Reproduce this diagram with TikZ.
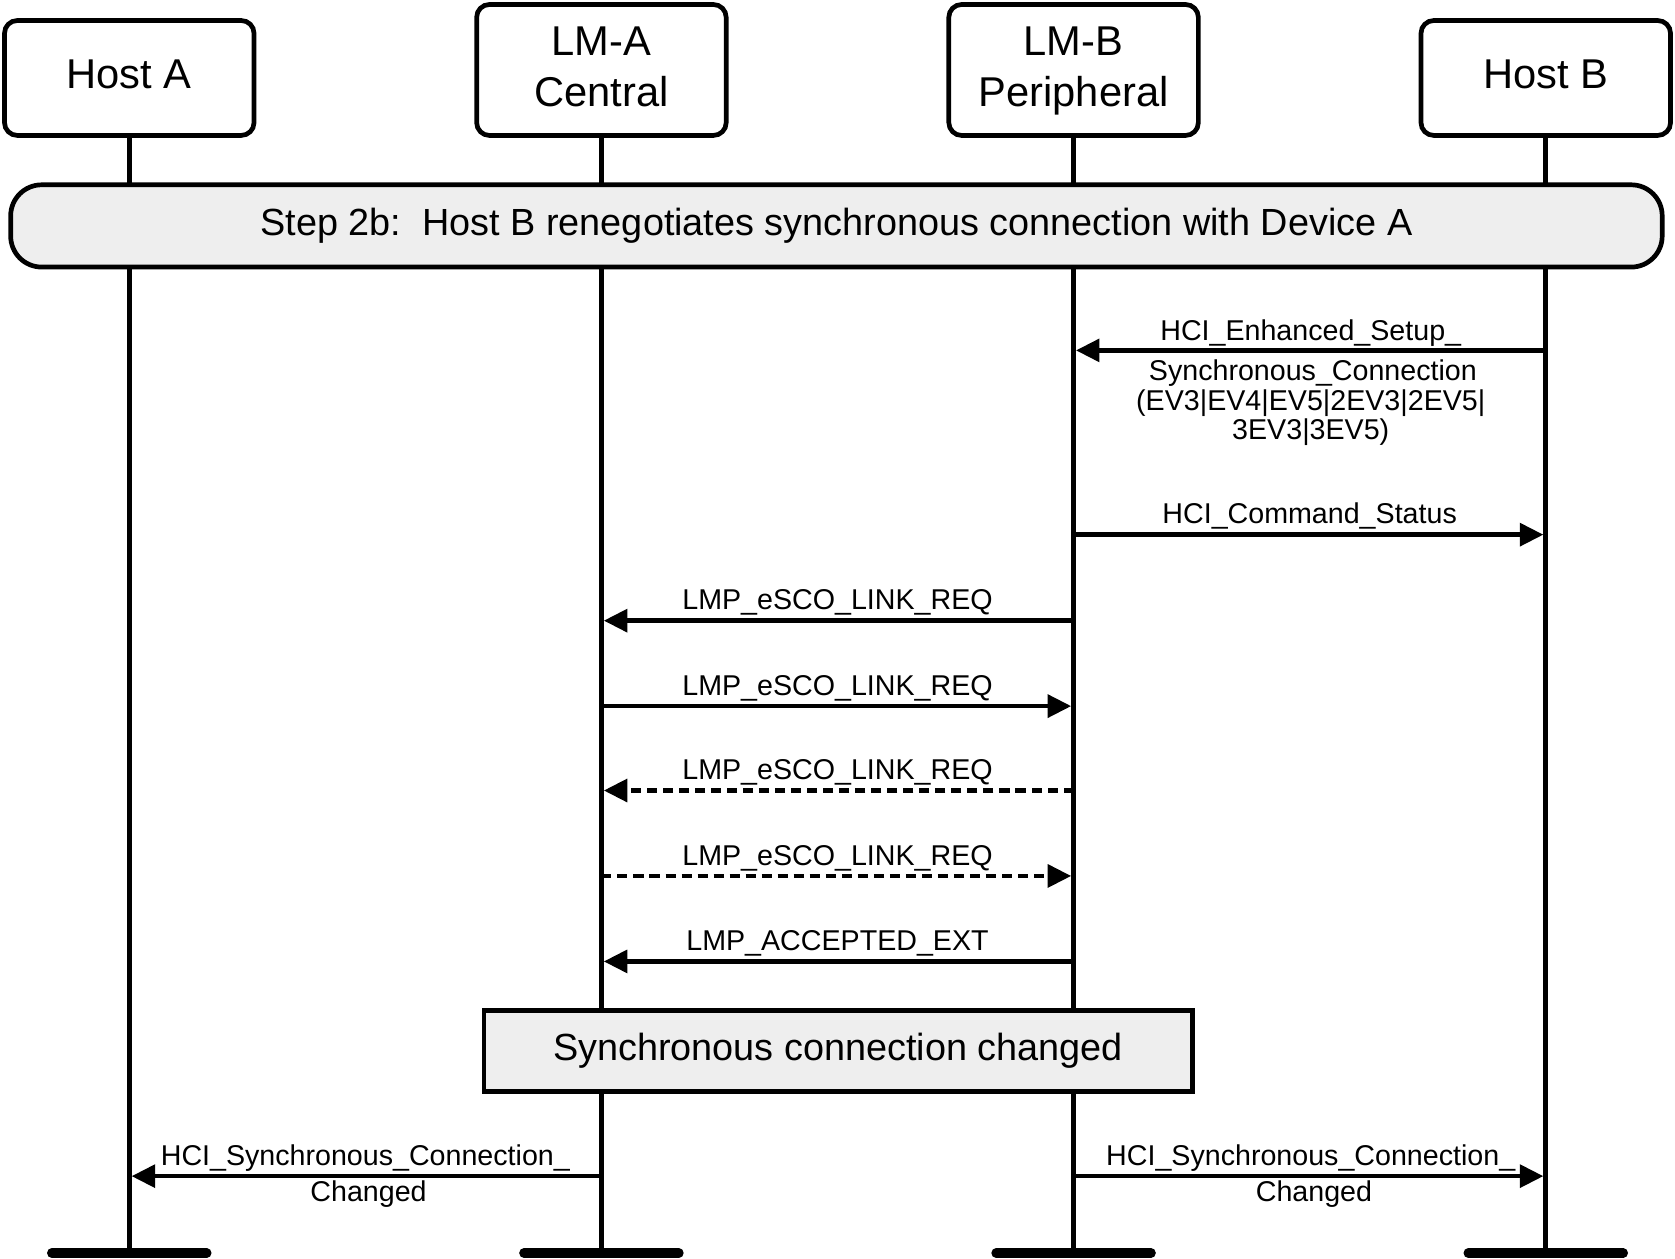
\documentclass[tikz,border=0pt]{standalone}
\usepackage{fontspec}
\setmainfont{Liberation Sans}
\usetikzlibrary{arrows.meta}
\definecolor{boxgray}{RGB}{238,238,238}
\frenchspacing
\begin{document}
\begin{tikzpicture}[x=0.5pt,y=-0.5pt,
  actor/.style={draw, line width=2.2pt, rounded corners=6pt, minimum width=116.8pt,
    align=center, font=\fontsize{19.5pt}{23.65pt}\selectfont, text depth=3.3pt, inner sep=0pt},
  hostbox/.style={actor, minimum height=53.8pt},
  lmbox/.style={actor, minimum height=61.3pt},
  lifeline/.style={line width=2.2pt},
  endbar/.style={line width=4.5pt, line cap=round},
  banner/.style={draw, fill=boxgray, line width=2.2pt, rounded corners=14.5pt,
    minimum width=773pt, minimum height=38.5pt, inner sep=0pt,
    font=\fontsize{17.7pt}{21pt}\selectfont},
  statebox/.style={draw, fill=boxgray, line width=2.2pt, minimum width=331.5pt,
    minimum height=38pt, inner sep=0pt, font=\fontsize{17.7pt}{21pt}\selectfont},
  msg/.style={line width=2.2pt, -{Triangle[length=11pt,width=10.5pt]}, shorten >=1.1pt},
  dmsg/.style={msg, dash pattern=on 4.7pt off 2.8pt},
  lbl/.style={anchor=base, inner sep=0pt, font=\fontsize{13.4pt}{14pt}\selectfont}
]
\useasboundingbox (0,0) rectangle (1568,1178);

% participants
\node[hostbox] (hA) at (121,73) {Host A};
\node[lmbox] (lA) at (563,65.5) {LM-A\\Central};
\node[lmbox] (lB) at (1005,65.5) {LM-B\\Peripheral};
\node[hostbox] (hB) at (1447,73) {Host B};

% lifeline ends
\coordinate (hAe) at (121,1173);
\coordinate (lAe) at (563,1173);
\coordinate (lBe) at (1005,1173);
\coordinate (hBe) at (1447,1173);

\draw[lifeline] (hA) -- (hAe);
\draw[lifeline] (lA) -- (lAe);
\draw[lifeline] (lB) -- (lBe);
\draw[lifeline] (hB) -- (hBe);

\draw[endbar] (hAe) ++(-72.5,0) -- ++(145,0);
\draw[endbar] (lAe) ++(-72.5,0) -- ++(145,0);
\draw[endbar] (lBe) ++(-72.5,0) -- ++(145,0);
\draw[endbar] (hBe) ++(-72.5,0) -- ++(145,0);

% banner and state box
\node[banner] (step) at (783,211.5) {Step 2b:\ \ Host B renegotiates synchronous connection with Device A};
\node[statebox] (sync) at (784.5,984) {Synchronous connection changed};

% messages
\draw[msg] (hB.center |- 0,328) -- (lB.center |- 0,328);
\node[lbl] (t1a) at (1227,319) {HCI\_Enhanced\_Setup\_};
\node[lbl] (t1b) at (1229,356.5) {Synchronous\_Connection};
\node[lbl] (t1c) at (1227,384) {(EV3|EV4|EV5|2EV3|2EV5|};
\node[lbl] (t1d) at (1227,411) {3EV3|3EV5)};

\draw[msg] (lB.center |- 0,500.5) -- (hB.center |- 0,500.5);
\node[lbl] (t2) at (1226,490.5) {HCI\_Command\_Status};

\draw[msg] (lB.center |- 0,581) -- (lA.center |- 0,581);
\node[lbl] (t3) at (784,571) {LMP\_eSCO\_LINK\_REQ};

\draw[msg] (lA.center |- 0,661) -- (lB.center |- 0,661);
\node[lbl] (t4) at (784,651) {LMP\_eSCO\_LINK\_REQ};

\draw[dmsg] (lB.center |- 0,740) -- (lA.center |- 0,740);
\node[lbl] (t5) at (784,730) {LMP\_eSCO\_LINK\_REQ};

\draw[dmsg] (lA.center |- 0,820) -- (lB.center |- 0,820);
\node[lbl] (t6) at (784,810) {LMP\_eSCO\_LINK\_REQ};

\draw[msg] (lB.center |- 0,900) -- (lA.center |- 0,900);
\node[lbl] (t7) at (784,890) {LMP\_ACCEPTED\_EXT};

\draw[msg] (lA.center |- 0,1101) -- (hA.center |- 0,1101);
\node[lbl] (t8a) at (342,1091) {HCI\_Synchronous\_Connection\_};
\node[lbl] (t8b) at (345,1125) {Changed};

\draw[msg] (lB.center |- 0,1101) -- (hB.center |- 0,1101);
\node[lbl] (t9a) at (1227,1091) {HCI\_Synchronous\_Connection\_};
\node[lbl] (t9b) at (1230,1125) {Changed};
\end{tikzpicture}
\end{document}
